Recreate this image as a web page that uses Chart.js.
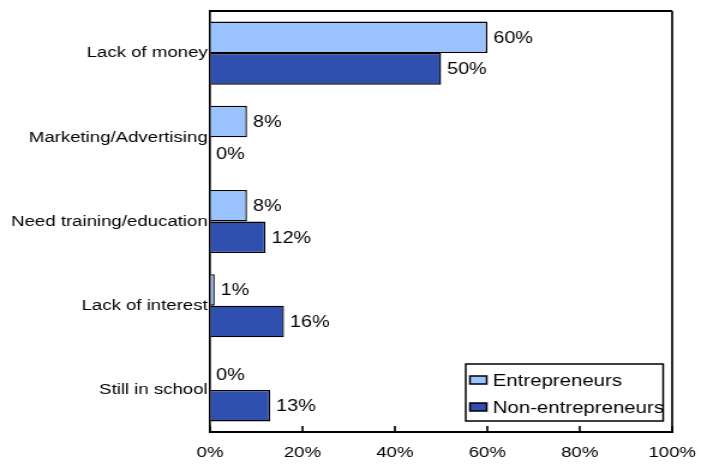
<!DOCTYPE html>
<html>
<head>
<meta charset="utf-8">
<script src="https://cdn.jsdelivr.net/npm/chart.js@4/dist/chart.umd.min.js"></script>
<style>
  html, body { margin: 0; padding: 0; background: #fff; overflow: hidden; }
  #wrap { width: 584px; height: 466px; transform: scaleX(1.2003); transform-origin: 0 0; }
  canvas { display: block; }
</style>
</head>
<body>
<div id="wrap"><canvas id="c" width="584" height="466"></canvas></div>
<script>
// Barriers to starting a business, by group (% of respondents)
const categories = ['Lack of money', 'Marketing/Advertising', 'Need training/education', 'Lack of interest', 'Still in school'];
const entrepreneurs = [60, 8, 8, 1, 0];
const nonEntrepreneurs = [50, 0, 12, 16, 13];
const seriesNames = ['Entrepreneurs', 'Non-entrepreneurs'];
const xTickValues = [0, 20, 40, 60, 80, 100];

const LIGHT = '#99C2FF';
const DARK = '#3050B0';
const FONT = "'Liberation Sans', Arial, sans-serif";

// Frame, inward tick marks, value labels and the boxed legend
const decorations = {
  id: 'decorations',
  afterDatasetsDraw(chart) {
    const { ctx, chartArea: a, scales } = chart;
    ctx.save();
    ctx.strokeStyle = '#000';

    // top and right edges of the plot frame
    ctx.lineWidth = 2;
    ctx.beginPath();
    ctx.moveTo(a.left, a.top);
    ctx.lineTo(a.right, a.top);
    ctx.stroke();
    ctx.lineWidth = 1.67;
    ctx.beginPath();
    ctx.moveTo(a.right, a.top);
    ctx.lineTo(a.right, a.bottom);
    ctx.stroke();

    // tick marks pointing into the plot
    ctx.lineWidth = 1.67;
    xTickValues.forEach(v => {
      const x = scales.x.getPixelForValue(v);
      ctx.beginPath();
      ctx.moveTo(x, a.bottom);
      ctx.lineTo(x, a.bottom - 6);
      ctx.stroke();
    });

    // value labels at the end of each bar
    ctx.fillStyle = '#000';
    ctx.font = `16.5px ${FONT}`;
    ctx.textAlign = 'left';
    ctx.textBaseline = 'middle';
    chart.data.datasets.forEach((ds, di) => {
      chart.getDatasetMeta(di).data.forEach((bar, i) => {
        ctx.fillText(ds.data[i] + '%', bar.x + 5, bar.y + 1);
      });
    });

    // legend box inside the lower right corner of the plot
    const lx = a.right - 172, ly = a.bottom - 68, lw = 164.5, lh = 57;
    ctx.lineWidth = 1.5;
    ctx.strokeRect(lx, ly, lw, lh);
    ctx.font = `17px ${FONT}`;
    chart.data.datasets.forEach((ds, di) => {
      const cy = ly + 16 + di * 27;
      ctx.fillStyle = ds.backgroundColor;
      ctx.fillRect(lx + 3.5, cy - 4, 14, 8);
      ctx.lineWidth = 1.5;
      ctx.strokeRect(lx + 3.5, cy - 4, 14, 8);
      ctx.fillStyle = '#000';
      ctx.fillText(ds.label, lx + 22.5, cy + 1);
    });
    ctx.restore();
  }
};

new Chart(document.getElementById('c'), {
  type: 'bar',
  data: {
    labels: categories,
    datasets: [
      { label: seriesNames[0], data: entrepreneurs, backgroundColor: LIGHT, borderColor: '#000', borderWidth: 1.4 },
      { label: seriesNames[1], data: nonEntrepreneurs, backgroundColor: DARK, borderColor: '#000', borderWidth: 1.4 }
    ]
  },
  options: {
    indexAxis: 'y',
    responsive: false,
    animation: false,
    devicePixelRatio: 1,
    layout: { padding: { top: 11, right: 24, left: 0, bottom: 0 } },
    datasets: { bar: { categoryPercentage: 0.75, barPercentage: 1.0 } },
    plugins: { legend: { display: false }, tooltip: { enabled: false } },
    scales: {
      x: {
        min: 0, max: 100,
        afterFit(s) { s.height = 34; s.paddingLeft = 0; s.paddingRight = 0; },
        afterBuildTicks(s) { s.ticks = xTickValues.map(v => ({ value: v })); },
        ticks: { color: '#000', font: { family: FONT, size: 15.5 }, padding: 11, callback: v => v + '%', maxRotation: 0 },
        grid: { drawOnChartArea: false, drawTicks: false },
        border: { display: true, color: '#000', width: 2 }
      },
      y: {
        afterFit(s) { s.width = 175; s.paddingTop = 0; s.paddingBottom = 0; },
        ticks: { color: '#000', font: { family: FONT, size: 15.5 }, padding: 2 },
        grid: { drawOnChartArea: false, drawTicks: false },
        border: { display: true, color: '#000', width: 1.67 }
      }
    }
  },
  plugins: [decorations]
});
</script>
</body>
</html>
